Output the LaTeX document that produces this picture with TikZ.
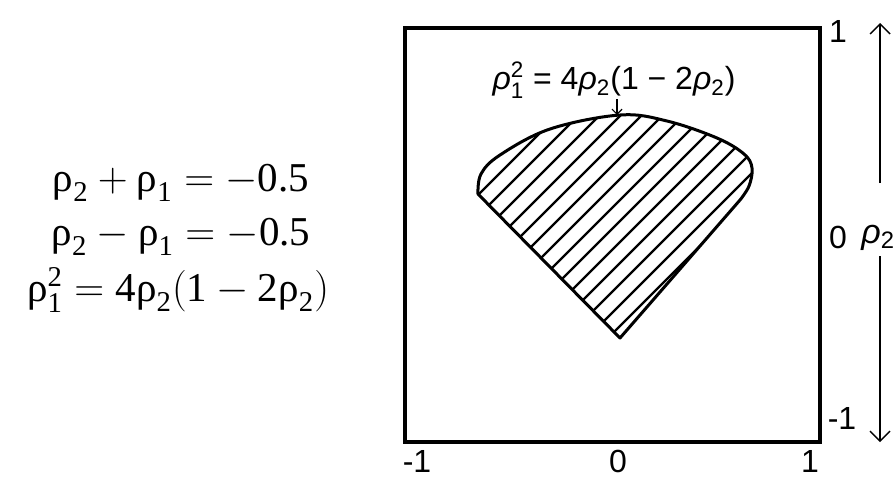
\documentclass[tikz,border=0pt]{standalone}
\usepackage{amsmath}
\usepackage{fontspec}
\setmainfont{Liberation Serif}
\setsansfont{Liberation Sans}
\usetikzlibrary{arrows.meta}
\newcommand\rr{\text{ρ}}
\newcommand\ri{\textit{ρ}}
\begin{document}
\begin{tikzpicture}[x=0.5pt,y=-0.5pt,
  eq/.style={inner sep=0pt,font=\fontsize{20.5}{24}\selectfont},
  lab/.style={inner sep=0pt,font=\fontsize{16}{19}\selectfont\sffamily},
  tick/.style={inner sep=0pt,font=\fontsize{16}{19}\selectfont\sffamily},
  frame/.style={line width=2pt},
  outline/.style={line width=1.5pt,line join=round},
  hatch/.style={line width=1.1pt},
  axarrow/.style={line width=0.7pt,-{Straight Barb[length=5pt,width=10pt,line width=0.7pt]}},
  smallarrow/.style={line width=0.6pt,-{Straight Barb[length=2.5pt,width=5pt,line width=0.6pt]}}]
\useasboundingbox (0,0) rectangle (893,484);
\fill[white] (0,0) rectangle (893,484);
% equations on the left
\node[eq] (e1) at (181,183) {$\rr_{\text{2}}+\rr_{\text{1}}=-\text{0.5}$};
\node[eq] (e2) at (181,237) {$\rr_{\text{2}}-\rr_{\text{1}}=-\text{0.5}$};
\node[eq] (e3) at (178,290) {$\rr^{\text{2}}_{\text{1}}=\text{4}\rr_{\text{2}}(\text{1}-\text{2}\rr_{\text{2}})$};
% frame
\draw[frame] (405,28) rectangle (820,442);
% region
\def\regionpath{(620,338) -- plot[smooth,tension=0.6] coordinates {(478,194)(481,174)(500,155)(550,129)(620,115)(667,121)(717,138)(744,154)(752,168)(749,186)(740,200)} -- cycle}
\begin{scope}
\clip \regionpath;
\foreach \c in {652,673,...,960} \draw[hatch] ({\c-450},450) -- ({\c-50},50);
\end{scope}
\draw[outline] \regionpath;
% curve label
\node[lab] (curvelab) at (614,80) {\ri$^{\text{2}}_{\text{1}}$ = 4\ri$_{\text{2}}$(1 − 2\ri$_{\text{2}}$)};
\coordinate (arrtop) at (617,99);
\coordinate (peak) at (617,115);
\draw[smallarrow] (arrtop) -- (peak);
% ticks
\node[tick] (xm1) at (417,461) {-1};
\node[tick] (x0) at (618,461) {0};
\node[tick] (x1) at (810,461) {1};
\node[tick] (y1) at (838,31) {1};
\node[tick] (y0) at (838,237) {0};
\node[tick] (ym1) at (842,418) {-1};
\node[tick,anchor=west,font=\fontsize{17}{20}\selectfont\sffamily] (rho2) at (861,238) {\ri$_{\text{2}}$};
\coordinate (u1) at (880,183);
\coordinate (u2) at (880,23);
\coordinate (d1) at (880,256);
\coordinate (d2) at (880,442);
\draw[axarrow] (u1) -- (u2);
\draw[axarrow] (d1) -- (d2);
\end{tikzpicture}
\end{document}
